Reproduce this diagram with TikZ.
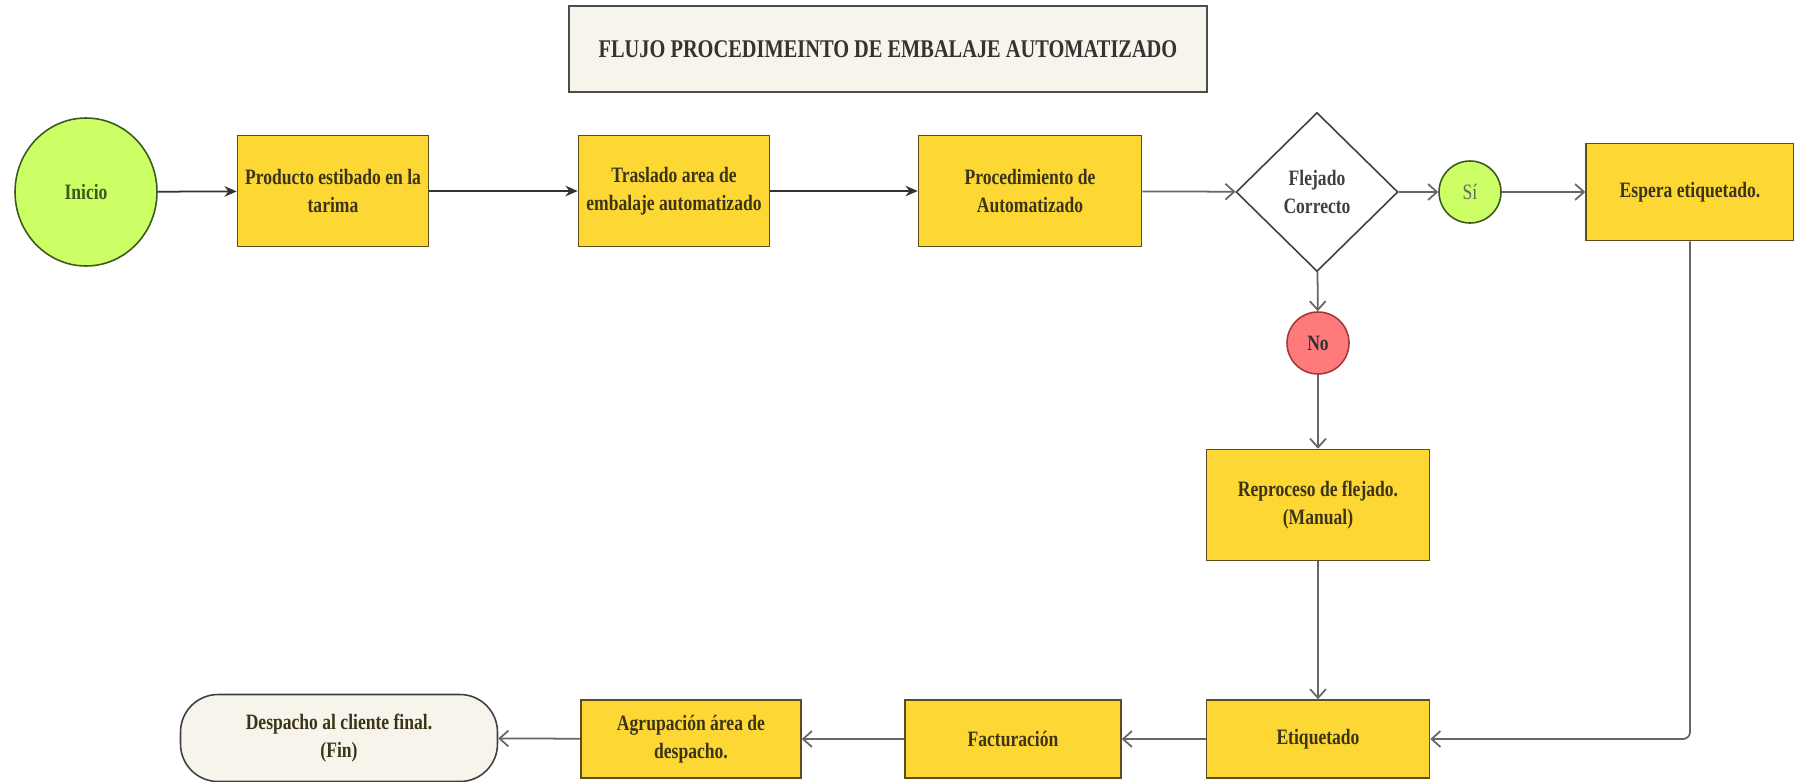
\documentclass[tikz,border=0pt]{standalone}
\usepackage{fontspec}
\setmainfont{Liberation Serif}[FakeStretch=0.8]
\usepackage{tikz}
\usepackage{xcolor}
\usetikzlibrary{shapes.geometric,arrows.meta}

\definecolor{boxyellow}{HTML}{FDD835}
\definecolor{boxline}{HTML}{5C4D1E}
\definecolor{boxtext}{HTML}{3B3418}
\definecolor{startgreen}{HTML}{CCFF66}
\definecolor{greenline}{HTML}{3D5A1E}
\definecolor{noredfill}{HTML}{FF7B7B}
\definecolor{noredline}{HTML}{A33A3A}
\definecolor{paper}{HTML}{F7F4EC}
\definecolor{linkgray}{HTML}{666666}

\begin{document}
\begin{tikzpicture}[x=0.02cm,y=-0.02cm,
    txt/.style={font=\fontsize{12.5}{16}\selectfont\bfseries,align=center},
    procbox/.style={txt,rectangle,draw=boxline,fill=boxyellow,text=boxtext,line width=0.9pt,inner sep=2pt,minimum height=2.22cm},
    endbox/.style={txt,rectangle,rounded corners=0.75cm,draw=black!75,fill=paper,text=boxtext,line width=0.9pt},
    yesno/.style={circle,line width=0.9pt,minimum size=1.24cm,inner sep=0pt,font=\fontsize{12.5}{14}\selectfont},
    mainlink/.style={draw=black!80,line width=1pt,-{Stealth[length=7pt,width=6pt]}},
    sidelink/.style={draw=linkgray,line width=1pt,-{Straight Barb[length=5pt,width=9pt]}}]
        \useasboundingbox (0,0) rectangle (1794,781);

        % Title
        \node[draw=black!70,fill=paper,line width=0.9pt,minimum width=12.76cm,minimum height=1.72cm,text=black!80,font=\fontsize{14.5}{16}\selectfont\bfseries] (title) at (888,49) {FLUJO PROCEDIMEINTO DE EMBALAJE AUTOMATIZADO};

        % Top row
        \node[txt,ellipse,draw=greenline,fill=startgreen,text=greenline,line width=0.9pt,minimum width=2.84cm,minimum height=2.96cm,inner sep=0pt] (inicio) at (86,192) {Inicio};
        \node[procbox,minimum width=3.82cm] (prod) at (333,191) {Producto estibado en la\\tarima};
        \node[procbox,minimum width=3.82cm] (trasl) at (674,191) {Traslado area de\\embalaje automatizado};
        \node[procbox,minimum width=4.46cm] (proc) at (1030,191) {Procedimiento de\\Automatizado};
        \node[txt,diamond,draw=black!75,fill=white,line width=0.9pt,minimum width=3.24cm,minimum height=3.18cm,inner sep=0pt,text=black!75] (flejado) at (1317,192) {Flejado\\Correcto};
        \node[yesno,draw=greenline,fill=startgreen,text=black!60] (si) at (1470,192) {Sí};
        \node[procbox,minimum width=4.16cm,minimum height=1.94cm] (espera) at (1690,192) {Espera etiquetado.};

        % Rework branch
        \node[yesno,draw=noredline,fill=noredfill,text=black!80,font=\fontsize{12.5}{14}\selectfont\bfseries] (no) at (1318,343) {No};
        \node[procbox,minimum width=4.46cm] (repro) at (1318,505) {Reproceso de flejado.\\(Manual)};

        % Bottom row
        \node[procbox,minimum width=4.46cm,minimum height=1.56cm] (etiq) at (1318,739) {Etiquetado};
        \node[procbox,minimum width=4.32cm,minimum height=1.56cm] (fact) at (1013,739) {Facturación};
        \node[procbox,minimum width=4.40cm,minimum height=1.56cm] (agrup) at (691,739) {Agrupación área de\\despacho.};
        \node[endbox,minimum width=6.34cm,minimum height=1.74cm] (desp) at (339,738) {Despacho al cliente final.\\(Fin)};

        % Connectors
        \draw[mainlink] (inicio) -- (prod);
        \draw[mainlink] (prod) -- (trasl);
        \draw[mainlink] (trasl) -- (proc);
        \draw[sidelink] (proc) -- (flejado);
        \draw[sidelink] (flejado) -- (si);
        \draw[sidelink] (si) -- (espera);
        \draw[sidelink] (flejado) -- (no);
        \draw[sidelink] (no) -- (repro);
        \draw[sidelink] (repro) -- (etiq);
        \draw[sidelink,rounded corners=4pt] (espera.south) |- (etiq.east);
        \draw[sidelink] (etiq) -- (fact);
        \draw[sidelink] (fact) -- (agrup);
        \draw[sidelink] (agrup) -- (desp);
    \end{tikzpicture}
\end{document}
